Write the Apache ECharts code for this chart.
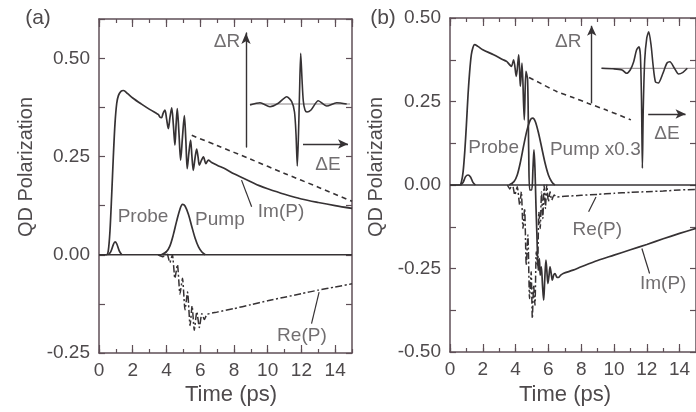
<!DOCTYPE html>
<html>
<head>
<meta charset="utf-8">
<script src="https://cdn.jsdelivr.net/npm/echarts@6/dist/echarts.min.js"></script>
<style>html,body{margin:0;padding:0;background:#fff}#c{width:696px;height:412px}</style>
</head>
<body>
<div id="c"></div>
<script>
// ---------- data (time in ps, polarization in arb. units) ----------
const xTicks = [0, 2, 4, 6, 8, 10, 12, 14];
const yTicksA = [-0.25, 0, 0.25, 0.5];
const yTicksB = [-0.5, -0.25, 0, 0.25, 0.5];

// Panel (a)
const imA = [[0,0],[0.45,0],[0.55,0.01],[0.65,0.06],[0.75,0.15],[0.85,0.25],[0.95,0.335],[1.05,0.385],[1.15,0.405],[1.3,0.416],[1.45,0.418],[1.7,0.41],[2.0,0.399],[2.5,0.384],[3.0,0.37],[3.4,0.36],[3.52,0.357],[3.62,0.35],[3.71,0.349],[3.8,0.36],[3.91,0.368],[4.01,0.345],[4.11,0.321],[4.21,0.35],[4.31,0.374],[4.41,0.33],[4.5,0.279],[4.57,0.33],[4.64,0.372],[4.74,0.31],[4.84,0.241],[4.95,0.3],[5.06,0.354],[5.15,0.29],[5.23,0.219],[5.33,0.26],[5.43,0.292],[5.51,0.25],[5.59,0.215],[5.69,0.245],[5.79,0.269],[5.87,0.25],[5.95,0.228],[6.07,0.24],[6.19,0.249],[6.34,0.232],[6.48,0.241],[6.68,0.235],[7,0.228],[7.5,0.218],[8,0.206],[8.5,0.196],[9,0.186],[9.5,0.176],[10,0.168],[11,0.154],[12,0.142],[13,0.133],[14,0.125],[15,0.118]];
const dashA = [[5.5,0.304],[7,0.278],[9,0.243],[11,0.207],[13,0.172],[15,0.136]];
const reA = [[3.5,0],[3.8,-0.005],[4.0,0.008],[4.2,-0.02],[4.35,0.0],[4.5,-0.06],[4.65,-0.025],[4.8,-0.1],[4.95,-0.06],[5.1,-0.14],[5.25,-0.095],[5.4,-0.18],[5.52,-0.13],[5.65,-0.192],[5.8,-0.145],[5.95,-0.185],[6.1,-0.15],[6.25,-0.165],[6.4,-0.152],[7,-0.146],[8,-0.137],[9,-0.127],[10,-0.117],[11,-0.108],[12,-0.099],[13,-0.09],[14,-0.082],[15,-0.074]];
const probeA = [[0.55,0],[0.7,0.008],[0.85,0.026],[0.95,0.033],[1.05,0.028],[1.2,0.01],[1.35,0]];
const pumpA = [[3.7,0],[4.0,0.008],[4.2,0.022],[4.4,0.05],[4.6,0.085],[4.8,0.116],[4.95,0.128],[5.1,0.124],[5.3,0.103],[5.5,0.072],[5.7,0.042],[5.9,0.02],[6.1,0.007],[6.3,0]];
const baseA = [[0,0],[15,0]];
const leadersA = [[[8.45,0.19],[9.05,0.122]], [[12.6,-0.175],[13.05,-0.095]]];
const notesA = [['Probe',2.61,0.097],['Pump',7.17,0.089],['Im(P)',10.79,0.11],['Re(P)',12.03,-0.206],['ΔR',7.59,0.541],['ΔE',13.57,0.23]];

// Inset (a): spectrum dR(dE), arbitrary units
const insetA = [[0.4,-0.1],[1.4,0.13],[2.4,-0.27],[3.23,0.07],[4.07,0.73],[4.57,0.23],[4.85,-0.8],[5.0,-3],[5.13,-6.2],[5.25,-3],[5.35,1],[5.47,5.07],[5.6,2.5],[5.73,0.3],[5.9,-0.6],[6.1,-0.8],[6.5,-0.6],[7.23,0.33],[8.07,-0.2],[9.07,0.13],[10.07,0]];
const insetZeroA = [[0.4,0],[10.4,0]];
const insetArrowA = [[5.7,-4.0],[10.2,-4.0]];

// Panel (b)
const imB = [[0,0],[0.6,0],[0.7,0.01],[0.8,0.04],[0.9,0.1],[1.0,0.18],[1.1,0.27],[1.2,0.34],[1.3,0.39],[1.4,0.412],[1.5,0.42],[1.7,0.415],[2.0,0.405],[2.66,0.39],[3.2,0.376],[3.45,0.37],[3.6,0.362],[3.74,0.355],[3.88,0.375],[4.04,0.325],[4.19,0.39],[4.29,0.295],[4.39,0.365],[4.53,0.195],[4.63,0.34],[4.73,0.315],[4.8,0.1],[4.86,-0.015],[4.98,-0.015],[5.06,0.05],[5.12,0.105],[5.18,0.05],[5.24,-0.06],[5.3,-0.15],[5.38,-0.255],[5.45,-0.22],[5.5,-0.27],[5.57,-0.245],[5.64,-0.3],[5.71,-0.345],[5.78,-0.28],[5.85,-0.225],[5.91,-0.26],[5.97,-0.295],[6.04,-0.27],[6.1,-0.245],[6.17,-0.265],[6.24,-0.285],[6.32,-0.27],[6.4,-0.265],[6.5,-0.275],[6.6,-0.277],[6.75,-0.27],[6.9,-0.265],[7.5,-0.255],[8,-0.245],[9,-0.226],[10,-0.21],[11,-0.194],[12,-0.178],[13,-0.161],[14,-0.145],[15,-0.13]];
const dashB = [[4.82,0.322],[5.5,0.305],[6.5,0.28],[7.5,0.262],[8.4,0.245],[9.5,0.225],[11.03,0.195]];
const reB = [[3.5,0],[3.65,-0.012],[3.8,0.004],[3.95,-0.03],[4.1,-0.005],[4.25,-0.06],[4.35,-0.02],[4.45,-0.13],[4.55,-0.07],[4.65,-0.24],[4.75,-0.15],[4.85,-0.34],[4.95,-0.26],[5.02,-0.4],[5.1,-0.3],[5.18,-0.36],[5.26,-0.2],[5.34,-0.24],[5.42,-0.08],[5.5,-0.13],[5.58,-0.02],[5.66,-0.1],[5.74,0.0],[5.82,-0.07],[5.9,0.0],[6.0,-0.05],[6.1,-0.02],[6.2,-0.045],[6.35,-0.03],[6.5,-0.036],[7,-0.034],[8,-0.031],[9,-0.028],[10,-0.025],[11,-0.022],[12,-0.02],[13,-0.018],[14,-0.015],[15,-0.013]];
const probeB = [[0.65,0],[0.8,0.008],[0.95,0.025],[1.1,0.03],[1.25,0.024],[1.4,0.008],[1.55,0]];
const pumpB = [[3.6,0],[3.9,0.01],[4.1,0.03],[4.3,0.07],[4.5,0.12],[4.7,0.165],[4.9,0.195],[5.05,0.2],[5.2,0.19],[5.4,0.155],[5.6,0.11],[5.8,0.065],[6.0,0.03],[6.2,0.01],[6.4,0]];
const baseB = [[0,0],[15,0]];
const leadersB = [[[8.45,-0.08],[8.9,-0.036]], [[11.7,-0.19],[12.17,-0.265]]];
const notesB = [['Probe',2.66,0.111],['Pump x0.3',8.86,0.105],['Re(P)',8.98,-0.135],['Im(P)',13.0,-0.297],['ΔR',7.21,0.429],['ΔE',13.23,0.153]];

// Inset (b)
const insetB = [[1.13,0],[2.5,-0.05],[3.5,-0.17],[4.0,-0.5],[4.43,-0.17],[4.83,0.66],[5.16,1.83],[5.43,2.16],[5.6,1.33],[5.73,-3.17],[5.83,-10],[5.93,-4.17],[6.1,0.83],[6.33,3.0],[6.56,3.66],[6.83,2.33],[7.06,0.33],[7.33,-1.34],[7.66,-1.47],[8.16,-0.57],[8.66,0.53],[9.0,0.66],[9.5,0.03],[10.0,-0.57],[10.5,-0.4],[11,0]];
const insetZeroB = [[1.13,0],[12,0]];
const insetArrowRB = [[0,-3.5],[0,4.25]];
const insetArrowB = [[6.5,-4.57],[10.8,-4.57]];

// ---------- styles ----------
const FONT = 'Liberation Sans';
const TXT = '#4e4a4c', FRAME = '#5f4f57', INK = '#363234';

function mainX(grid, pos, interval, len, showLine, showLabel) {
  return {type:'value', gridIndex:grid, position:pos, min:0, max:15, interval:interval,
    axisLine:{show:showLine, onZero:false, lineStyle:{color:FRAME, width:1.5}},
    axisTick:{show:true, inside:true, length:len, lineStyle:{color:FRAME, width:1.2}},
    axisLabel:{show:showLabel, margin:8, color:TXT, fontSize:19, fontFamily:FONT, showMaxLabel:false,
      formatter: v => xTicks.indexOf(v) >= 0 ? String(v) : ''},
    splitLine:{show:false}};
}
function mainY(grid, pos, min, max, ticks, showLabel) {
  return {type:'value', gridIndex:grid, position:pos, min:min, max:max, interval:0.125,
    axisLine:{show:true, onZero:false, lineStyle:{color:FRAME, width:1.5}},
    axisTick:{show:true, inside:true, length:6, lineStyle:{color:FRAME, width:1.2}},
    axisLabel:{show:showLabel, margin:9, color:TXT, fontSize:19, fontFamily:FONT,
      formatter: v => ticks.some(t => Math.abs(t - v) < 1e-6) ? v.toFixed(2) : ''},
    splitLine:{show:false}};
}
function insetY(grid, min, max, showLine) {
  return {type:'value', gridIndex:grid, position:'left', min:min, max:max,
    axisLine:{show:showLine, onZero:false, symbol:['none','arrow'], symbolSize:[7,11], lineStyle:{color:INK, width:1.4}},
    axisTick:{show:false}, axisLabel:{show:false}, splitLine:{show:false}};
}

function line(data, xi, yi, type, width, extra) {
  return Object.assign({type:'line', data:data, xAxisIndex:xi, yAxisIndex:yi, showSymbol:false, symbol:'none',
    smooth:0.3, animation:false, silent:true,
    lineStyle:{color:INK, width:width, type:type}}, extra||{});
}
function notes(list, xi, yi) {
  return {type:'scatter', xAxisIndex:xi, yAxisIndex:yi, symbolSize:1, itemStyle:{color:'rgba(0,0,0,0)'},
    animation:false, silent:true, clip:false,
    data: list.map(n => ({name:n[0], value:[n[1], n[2]]})),
    label:{show:true, position:'inside', formatter:'{b}', color:TXT, fontSize:19, fontFamily:FONT}};
}
function leaders(list, xi, yi) {
  return list.map(seg => line(seg, xi, yi, 'solid', 1.2, {smooth:false, lineStyle:{color:INK, width:1.2}}));
}
function arrow(seg, xi, yi) {
  return {type:'line', xAxisIndex:xi, yAxisIndex:yi, data:[], clip:false, animation:false, silent:true,
    markLine:{silent:true, animation:false, symbol:['none','arrow'], symbolSize:[7,10], label:{show:false},
      lineStyle:{color:INK, width:1.4, type:'solid'},
      data:[[{coord:seg[0]},{coord:seg[1]}]]}};
}

const dashed = [5,4];
const dashDot = [7,2.5,2,2.5];
const W = 1.7;

const option = {
  backgroundColor:'#ffffff',
  textStyle:{fontFamily:FONT},
  grid:[
    {left:99, top:19, right:344, bottom:59},
    {left:450, top:18, right:-9, bottom:60},
    {left:246, top:33, width:104, height:114},
    {left:591.7, top:25, width:120, height:145}
  ],
  xAxis:[
    mainX(0,'bottom',2,8,true,true), mainX(0,'bottom',1,4,false,false),
    mainX(0,'top',2,8,true,false), mainX(0,'top',1,4,false,false),
    mainX(1,'bottom',2,8,true,true), mainX(1,'bottom',1,4,false,false),
    mainX(1,'top',2,8,true,false), mainX(1,'top',1,4,false,false),
    {type:'value', gridIndex:2, min:0, max:10.4, show:false},
    {type:'value', gridIndex:3, min:0, max:12, show:false}
  ],
  yAxis:[
    mainY(0,'left',-0.25,0.6,yTicksA,true), mainY(0,'right',-0.25,0.6,yTicksA,false),
    mainY(1,'left',-0.5,0.5,yTicksB,true), mainY(1,'right',-0.5,0.5,yTicksB,false),
    insetY(2,-4.3,7.1,true), insetY(3,-10.17,4.33,false)
  ],
  series:[
    // panel a
    line(baseA,0,0,'solid',1.5,{smooth:false}),
    line(probeA,0,0,'solid',W),
    line(pumpA,0,0,'solid',W),
    line(dashA,0,0,dashed,1.6),
    line(reA,0,0,dashDot,1.5,{smooth:0.2}),
    line(imA,0,0,'solid',W),
    ...leaders(leadersA,0,0),
    notes(notesA,0,0),
    // inset a
    line(insetZeroA,8,4,'solid',1,{smooth:false, clip:false, lineStyle:{color:'#8a8486', width:1}}),
    line(insetA,8,4,'solid',1.6,{clip:false, smooth:0.25}),
    arrow(insetArrowA,8,4),
    // panel b
    line(baseB,4,2,'solid',1.5,{smooth:false}),
    line(probeB,4,2,'solid',W),
    line(pumpB,4,2,'solid',W),
    line(dashB,4,2,dashed,1.6),
    line(reB,4,2,dashDot,1.5,{smooth:0.2}),
    line(imB,4,2,'solid',W),
    ...leaders(leadersB,4,2),
    notes(notesB,4,2),
    // inset b
    line(insetZeroB,9,5,'solid',1,{smooth:false, clip:false, lineStyle:{color:'#8a8486', width:1}}),
    line(insetB,9,5,'solid',1.6,{clip:false, smooth:0.25}),
    arrow(insetArrowRB,9,5),
    arrow(insetArrowB,9,5)
  ],
  graphic:[
    {type:'text', x:38, y:18, style:{text:'(a)', font:'21px "Liberation Sans"', fill:TXT, align:'center', verticalAlign:'middle'}},
    {type:'text', x:383, y:18, style:{text:'(b)', font:'21px "Liberation Sans"', fill:TXT, align:'center', verticalAlign:'middle'}},
    {type:'text', x:26, y:167, rotation:Math.PI/2, style:{text:'QD Polarization', font:'20px "Liberation Sans"', fill:TXT, align:'center', verticalAlign:'middle'}},
    {type:'text', x:376, y:167, rotation:Math.PI/2, style:{text:'QD Polarization', font:'20px "Liberation Sans"', fill:TXT, align:'center', verticalAlign:'middle'}},
    {type:'text', x:231, y:395, style:{text:'Time (ps)', font:'22px "Liberation Sans"', fill:TXT, align:'center', verticalAlign:'middle'}},
    {type:'text', x:565, y:395, style:{text:'Time (ps)', font:'22px "Liberation Sans"', fill:TXT, align:'center', verticalAlign:'middle'}}
  ]
};

const chart = echarts.init(document.getElementById('c'), null, {renderer:'canvas', width:696, height:412});
chart.setOption(option);
</script>
</body>
</html>
